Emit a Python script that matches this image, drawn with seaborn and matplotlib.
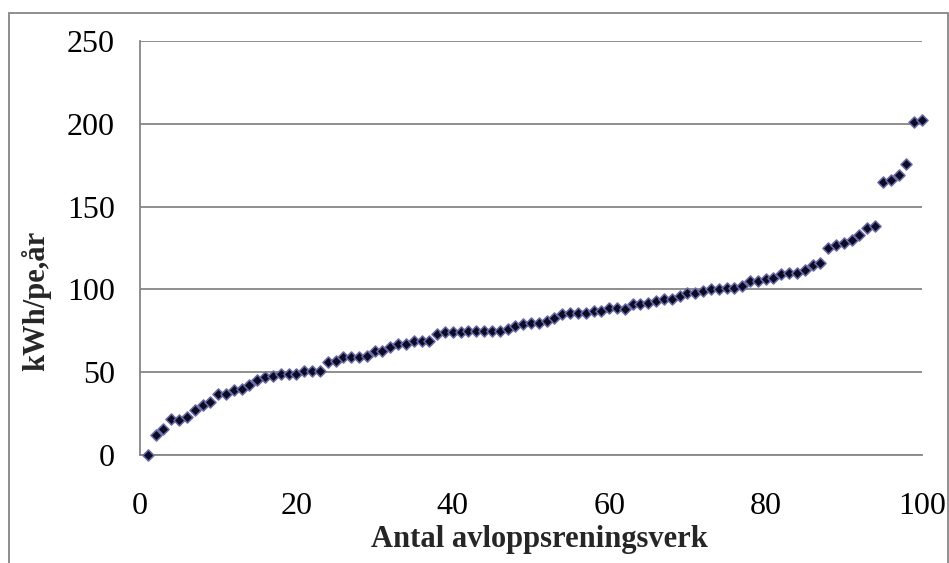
"""Sorted specific energy use per wastewater treatment plant (scatter)."""
import numpy as np
import pandas as pd
import matplotlib
matplotlib.use("Agg")
import matplotlib.pyplot as plt
from matplotlib.patches import Rectangle
import seaborn as sns

# --- data ------------------------------------------------------------------
plant_rank = list(range(1, 101))
kwh_per_pe = [
    0, 12, 16, 22, 21, 23, 27, 30, 32, 37,
    37, 39, 40, 42, 45, 47, 48, 49, 49, 49,
    51, 51, 51, 56, 57, 59, 59, 59, 60, 63,
    63, 65, 67, 67, 69, 69, 69, 73, 74, 74,
    74, 75, 75, 75, 75, 75, 76, 78, 79, 80,
    80, 81, 83, 85, 86, 86, 86, 87, 87, 89,
    89, 88, 91, 91, 92, 93, 94, 94, 96, 98,
    98, 99, 100, 100, 101, 101, 102, 105, 105, 106,
    107, 109, 110, 110, 112, 115, 116, 125, 127, 128,
    130, 133, 137, 138, 165, 166, 169, 176, 201, 202,
]
x_ticks = [0, 20, 40, 60, 80, 100]
y_ticks = [0, 50, 100, 150, 200, 250]

df = pd.DataFrame({"rank": plant_rank, "kwh": kwh_per_pe})

sns.set_style("white")
plt.rcParams["font.family"] = ["Liberation Serif", "DejaVu Serif"]

GRID = "#868686"

fig = plt.figure(figsize=(9.49, 5.63), dpi=100)
ax = fig.add_axes([140 / 949, 1 - 455 / 563, 782 / 949, 414 / 563])

# chart-area frame (bottom edge falls outside the crop)
fig.patches.append(Rectangle((9 / 949, -0.05), 939 / 949, 1.05 - 12.7 / 563,
                             transform=fig.transFigure, fill=False,
                             edgecolor=GRID, linewidth=1.3, zorder=0))

sns.scatterplot(data=df, x="rank", y="kwh", ax=ax, marker="D", s=32,
                color="#0b0b24", edgecolor="#6a6aa6", linewidth=1.1,
                legend=False, zorder=3, clip_on=False)

ax.set_xlim(0, 100)
ax.set_ylim(0, 250)
ax.set_xticks(x_ticks)
ax.set_yticks(y_ticks)
ax.yaxis.grid(True, color=GRID, linewidth=1.3)
ax.set_axisbelow(True)

for side in ["top", "right"]:
    ax.spines[side].set_visible(False)
for side in ["left", "bottom"]:
    ax.spines[side].set_color(GRID)
    ax.spines[side].set_linewidth(1.3)

ax.tick_params(axis="both", direction="out", length=8, width=1.3,
               color=GRID, labelsize=23, labelcolor="black")
ax.tick_params(axis="y", pad=10)
ax.tick_params(axis="x", pad=19)

ax.set_xlabel("Antal avloppsreningsverk", fontsize=22, fontweight="bold")
ax.set_ylabel("kWh/pe,år", fontsize=22, fontweight="bold")
ax.xaxis.set_label_coords(0.511, -0.168)
ax.yaxis.set_label_coords(-0.113, 0.372)

plt.savefig("out.png", dpi=100)
plt.close()
